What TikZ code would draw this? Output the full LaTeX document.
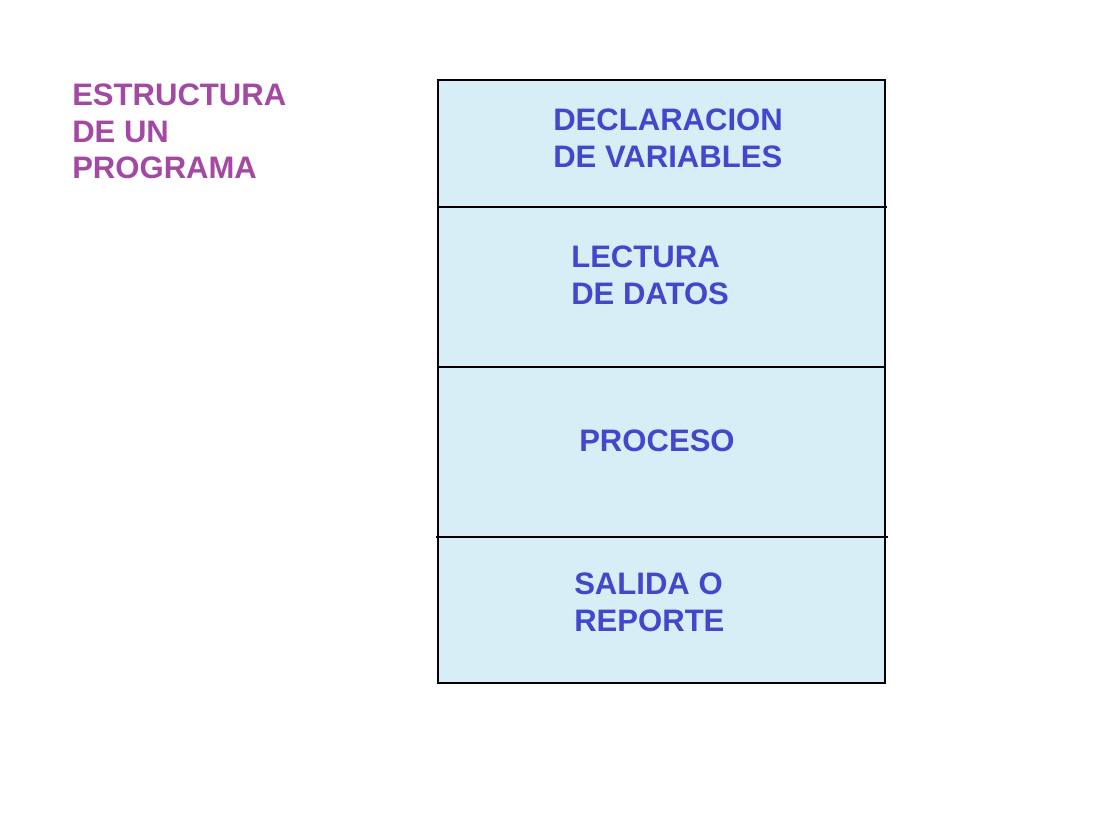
\documentclass[tikz,border=0pt]{standalone}
\usepackage{fontspec}
\setmainfont{Liberation Sans}
\definecolor{titlepurple}{RGB}{163,73,164}
\definecolor{textblue}{RGB}{66,72,204}
\definecolor{boxfill}{RGB}{216,238,246}
\begin{document}
\begin{tikzpicture}[x=0.75pt,y=-0.75pt,
  lbl/.style={anchor=west,align=left,inner sep=0pt,font=\fontsize{23.3}{27.6}\selectfont\bfseries},
  sect/.style={line width=2.2pt,draw=black}]
\useasboundingbox[fill=white] (0,0) rectangle (1119,816);
% box
\fill[boxfill] (438,80) rectangle (885,683);
\draw[sect] (438,80) rectangle (885,683);
\coordinate (d1l) at (438,207); \coordinate (d1r) at (887,207);
\coordinate (d2l) at (438,367); \coordinate (d2r) at (885,367);
\coordinate (d3l) at (436,537); \coordinate (d3r) at (888,537);
\draw[sect] (d1l) -- (d1r);
\draw[sect] (d2l) -- (d2r);
\draw[sect] (d3l) -- (d3r);
% texts
\node[lbl,text=titlepurple] (title) at (72,131.5) {ESTRUCTURA\\DE UN\\PROGRAMA};
\node[lbl,text=textblue] (decl) at (553,138.5) {DECLARACION\\DE VARIABLES};
\node[lbl,text=textblue] (lect) at (571,275.5) {LECTURA\\DE DATOS};
\node[lbl,text=textblue] (proc) at (579,441) {PROCESO};
\node[lbl,text=textblue] (sal) at (574,602) {SALIDA O\\REPORTE};
\end{tikzpicture}
\end{document}
